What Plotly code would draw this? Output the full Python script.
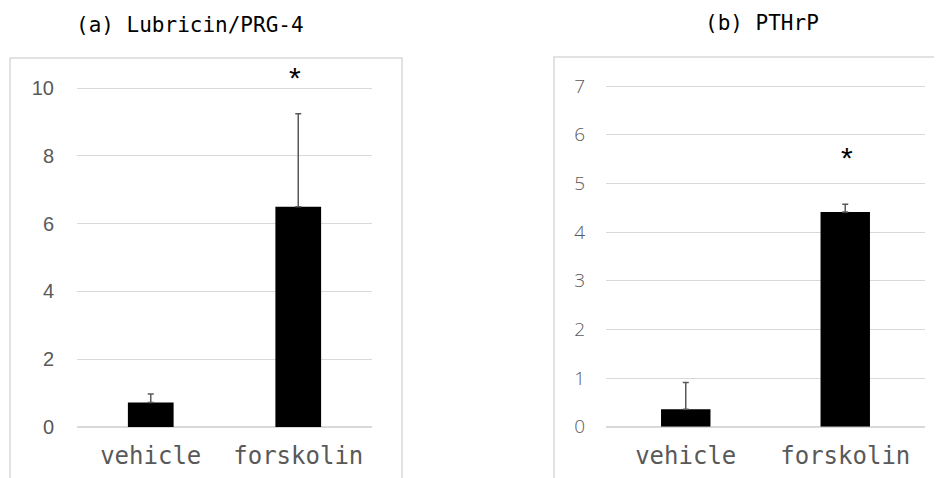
import plotly.graph_objects as go

W, H = 942, 478
OFF = 8  # page body margin of the rendered html

categories = ["vehicle", "forskolin"]

# (a) Lubricin/PRG-4
lub_values = [0.72, 6.5]
lub_err = [0.25, 2.74]
lub_star = [None, 10.38]
lub_ticks = [0, 2, 4, 6, 8, 10]

# (b) PTHrP
pthrp_values = [0.36, 4.41]
pthrp_err = [0.55, 0.16]
pthrp_star = [None, 5.6]
pthrp_ticks = [0, 1, 2, 3, 4, 5, 6, 7]

titles = ["(a) Lubricin/PRG-4", "(b) PTHrP"]

def px_x(p):
    return (p - OFF) / W

def px_y(p):
    return (H - (p - OFF)) / H

fig = go.Figure()

GRAY = "#595959"
GRID = "#d9d9d9"

fig.add_trace(go.Bar(
    x=categories, y=lub_values, marker_color="black", marker_line_width=0,
    error_y=dict(type="data", array=lub_err, arrayminus=[0, 0], symmetric=False,
                 color=GRAY, thickness=1.5, width=3),
    xaxis="x", yaxis="y", showlegend=False))

fig.add_trace(go.Bar(
    x=categories, y=pthrp_values, marker_color="black", marker_line_width=0,
    error_y=dict(type="data", array=pthrp_err, arrayminus=[0, 0], symmetric=False,
                 color=GRAY, thickness=1.5, width=3),
    xaxis="x2", yaxis="y2", showlegend=False))

mono = "DejaVu Sans Mono"

common_x = dict(type="category", range=[-0.5, 1.5], showgrid=False, zeroline=False,
                showline=False, ticks="", ticklabelstandoff=12, automargin=False,
                tickfont=dict(family=mono, size=24, color=GRAY))

# pixel scale per unit, used to extend the axis range so the stars fit
lub_top, pth_top = 11.0, 7.8
lub_px = (427 - 88) / 10
pth_px = (426.7 - 86) / 7

fig.update_layout(
    width=W, height=H,
    margin=dict(l=0, r=0, t=0, b=0, autoexpand=False),
    paper_bgcolor="white", plot_bgcolor="white",
    bargap=0.69,
    xaxis=dict(domain=[px_x(77), px_x(372)], anchor="y", **common_x),
    xaxis2=dict(domain=[px_x(606), px_x(925)], anchor="y2", **common_x),
    yaxis=dict(domain=[px_y(427), px_y(427 - lub_top * lub_px)], range=[0, lub_top],
               tickvals=lub_ticks, anchor="x", automargin=False,
               showgrid=True, gridcolor=GRID, gridwidth=1,
               zeroline=True, zerolinecolor=GRID, zerolinewidth=1.5,
               showline=False, ticks="", ticklabelstandoff=22,
               tickfont=dict(family="Liberation Sans", size=20, color=GRAY)),
    yaxis2=dict(domain=[px_y(426.7), px_y(426.7 - pth_top * pth_px)], range=[0, pth_top],
                tickvals=pthrp_ticks, anchor="x2", automargin=False,
                showgrid=True, gridcolor=GRID, gridwidth=1,
                zeroline=True, zerolinecolor=GRID, zerolinewidth=1.5,
                showline=False, ticks="", ticklabelstandoff=20,
                tickfont=dict(family="Open Sans", size=19, color=GRAY, weight=300)),
)

# panel borders
fig.add_shape(type="rect", xref="paper", yref="paper",
              x0=px_x(10), x1=px_x(402), y0=-0.1, y1=px_y(58),
              line=dict(color=GRID, width=1.5), layer="below")
fig.add_shape(type="rect", xref="paper", yref="paper",
              x0=px_x(554), x1=1.1, y0=-0.1, y1=px_y(57),
              line=dict(color=GRID, width=1.5), layer="below")

# titles
fig.add_annotation(text=titles[0], xref="paper", yref="paper",
                   x=px_x(190), y=px_y(25), showarrow=False,
                   xanchor="center", yanchor="middle",
                   font=dict(family=mono, size=21, color="black"))
fig.add_annotation(text=titles[1], xref="paper", yref="paper",
                   x=px_x(761.5), y=px_y(23), showarrow=False,
                   xanchor="center", yanchor="middle",
                   font=dict(family=mono, size=21, color="black"))

# significance stars
for cat, s in zip(categories, lub_star):
    if s is not None:
        fig.add_annotation(text="*", x=cat, y=s, xref="x", yref="y",
                           showarrow=False, yanchor="middle", xshift=-3, yshift=-2,
                           font=dict(family="Liberation Sans", size=30, color="black"))
for cat, s in zip(categories, pthrp_star):
    if s is not None:
        fig.add_annotation(text="*", x=cat, y=s, xref="x2", yref="y2",
                           showarrow=False, yanchor="middle", xshift=2, yshift=-3,
                           font=dict(family="Liberation Sans", size=30, color="black"))

fig.write_html("out.html")
